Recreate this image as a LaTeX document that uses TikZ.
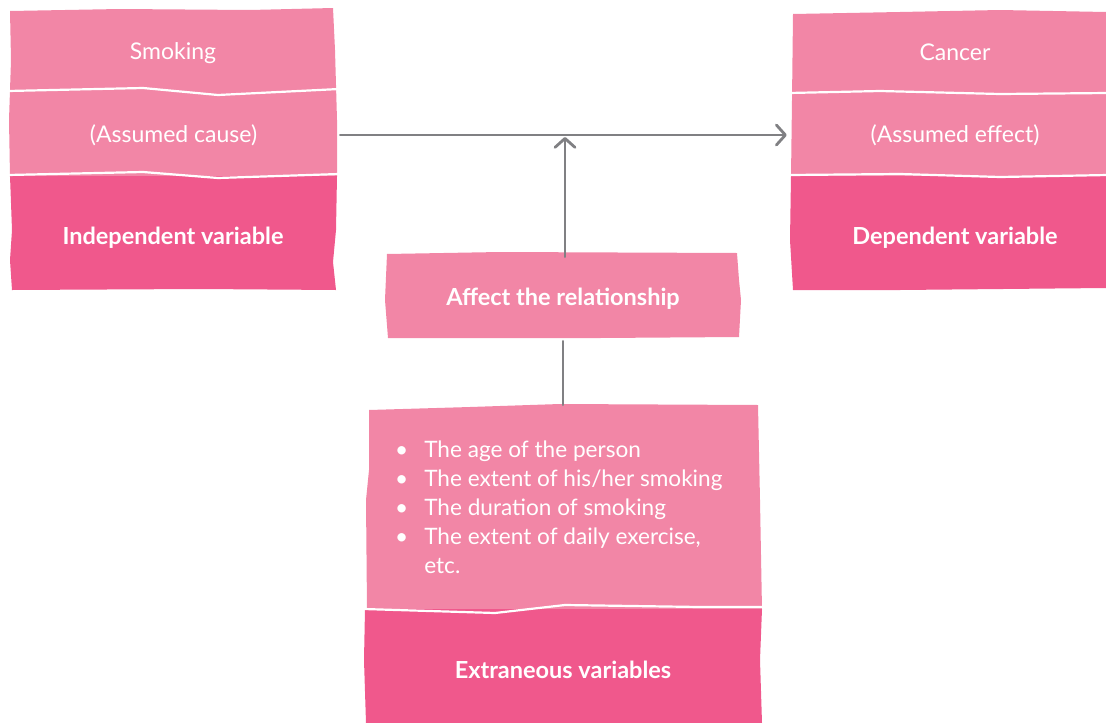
\documentclass[tikz,border=0pt]{standalone}
\usepackage{fontspec}
\setmainfont{Lato}
\usetikzlibrary{arrows.meta}
\definecolor{pinklight}{RGB}{242,134,166}
\definecolor{pinkdark}{RGB}{240,88,140}
\definecolor{linegray}{RGB}{128,128,131}
\tikzset{
  sep/.style={draw=white, line width=2.2pt, line join=round},
  cell/.style={inner sep=0pt, text=white},
  rowtext/.style={cell, font=\fontsize{23}{27}\selectfont},
  headtext/.style={cell, font=\fontsize{23.5}{28}\selectfont\bfseries},
  conn/.style={draw=linegray, line width=2.8pt, line cap=round},
  tipped/.style={-{Straight Barb[length=9pt,width=20pt,line cap=round,line join=round]}}
}
\begin{document}
\begin{tikzpicture}[x=1pt,y=-1pt]
\useasboundingbox (0,0) rectangle (1106,723);

% ---- independent variable block ----
\fill[pinklight] (10,11) -- (120,9) -- (250,10) -- (333,8) -- (335,50) -- (337,120)
  -- (337,177) -- (10,177) -- (9,120) -- (11,60) -- cycle;
\fill[pinkdark] (10,176) -- (337,176) -- (336,230) -- (333,262) -- (336,290)
  -- (200,289) -- (12,290) -- (10,260) -- (12,230) -- cycle;
\draw[sep] (8,91) -- (143,88) -- (218,95) -- (339,89);
\draw[sep] (8,175) -- (143,172) -- (218,178) -- (339,174);

% ---- dependent variable block ----
\fill[pinklight] (793,14) -- (900,12) -- (1000,10) -- (1106,12) -- (1106,177)
  -- (791,177) -- (792,100) -- cycle;
\fill[pinkdark] (791,176) -- (1106,176) -- (1106,288) -- (900,290) -- (793,290)
  -- (790,240) -- cycle;
\draw[sep] (789,93) -- (880,91) -- (1000,94) -- (1108,93);
\draw[sep] (789,175) -- (900,174) -- (1000,177) -- (1108,175);

% ---- relationship box ----
\fill[pinklight] (387,254) -- (500,252) -- (737,253) -- (739,280) -- (741,300)
  -- (739,337) -- (600,338) -- (388,338) -- (385,300) -- cycle;

% ---- extraneous variables block ----
\fill[pinklight] (369,410) -- (470,407) -- (560,404) -- (758,405) -- (760,500)
  -- (762,610) -- (367,610) -- (366,500) -- (369,470) -- cycle;
\fill[pinkdark] (365,609) -- (762,609) -- (760,660) -- (762,723) -- (366,723)
  -- (364,660) -- cycle;
\draw[sep] (364,609) -- (495,613) -- (565,605) -- (700,607) -- (764,607);

% ---- texts ----
\node[rowtext] (smoking) at (173,53) {Smoking};
\node[rowtext, minimum width=327pt, minimum height=82pt] (cause) at (173.5,135) {(Assumed cause)};
\node[headtext] (indep) at (173,238) {Independent variable};

\node[rowtext] (cancer) at (955,52) {Cancer};
\node[rowtext, minimum width=328pt, minimum height=82pt] (effect) at (955,135) {(Assumed effect)};
\node[headtext] (dep) at (955,238) {Dependent variable};

\node[headtext, minimum width=355pt, minimum height=84pt] (affect) at (563,299) {Affect the relationship};

\node[cell, minimum width=393pt, minimum height=202pt] (extbox) at (563,506) {};
\node[cell, anchor=north west, align=left, font=\fontsize{22.6}{29}\selectfont] (factors) at (395,437)
  {\begin{tabular}{@{}l@{\hspace{16pt}}l@{}}
   \textbullet & The age of the person\\
   \textbullet & The extent of his/her smoking\\
   \textbullet & The duration of smoking\\
   \textbullet & The extent of daily exercise,\\
               & etc.
   \end{tabular}};
\node[headtext] (extr) at (563,670) {Extraneous variables};

% ---- connectors ----
\draw[conn, tipped, shorten >=4pt, shorten <=3pt] (cause.east) -- (effect.west);
\draw[conn, tipped] (affect.north -| 565,0) -- (565,137);
\draw[conn] (extbox.north) -- (affect.south);
\end{tikzpicture}
\end{document}
